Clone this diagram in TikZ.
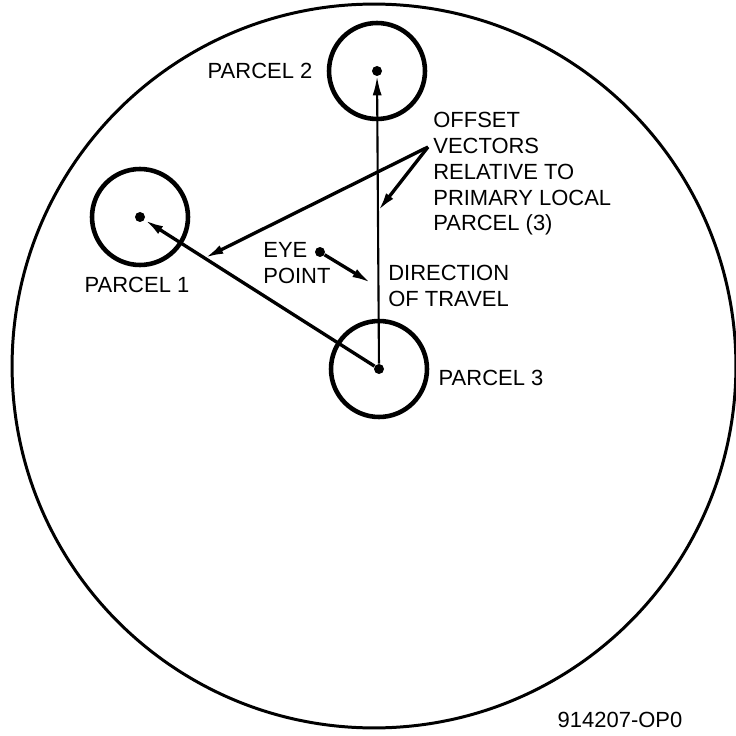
\documentclass[tikz,border=0pt]{standalone}
\usepackage{fontspec}
\setmainfont{Liberation Sans}
\usetikzlibrary{arrows.meta,positioning,calc}

\begin{document}
\begin{tikzpicture}[x=0.02cm, y=-0.02cm,
  parcel/.style={circle, draw, line width=2.6pt, minimum size=1.92cm, inner sep=0pt},
  dot/.style={circle, fill, inner sep=0pt, minimum size=0.2cm},
  lbl/.style={font=\fontsize{12.5}{14}\selectfont, inner sep=0pt},
  txt/.style={inner sep=0pt, align=left, anchor=north west, font=\fontsize{12.5}{14.7}\selectfont},
  vec/.style={-{Latex[length=3.8mm, width=1.8mm]}, line width=1.9pt}
]
  \useasboundingbox (0,0) rectangle (736,736);

  % field of view
  \coordinate (ctr) at (374,366);
  \draw[line width=1.7pt] (ctr) circle[radius=7.24cm];

  % parcels
  \node[dot] (d1) at (140,217) {};
  \node[parcel] (p1) at (d1) {};
  \node[dot] (d2) at (377,71) {};
  \node[parcel] (p2) at (d2) {};
  \node[dot] (d3) at (379,369) {};
  \node[parcel] (p3) at (d3) {};
  \node[lbl] (l1) at (137,285) {PARCEL 1};
  \node[lbl] (l2) at (260,71) {PARCEL 2};
  \node[lbl] (l3) at (491,378) {PARCEL 3};

  \draw[vec, line width=1.2pt] (d3) -- (d2);
  \draw[vec] (d3) -- (d1);

  % offset vectors
  \coordinate (ov) at (428,147);
  \coordinate (t1) at ($(d3)!0.73!(d1)$);
  \coordinate (t2) at ($(d3)!0.53!(d2)$);
  \draw[vec] (ov) -- (t1);
  \draw[vec] (ov) -- (t2);
  \node[txt] (offs) at (433,112) {OFFSET\\VECTORS\\RELATIVE TO\\PRIMARY LOCAL\\PARCEL (3)};

  % eye point and travel
  \node[dot] (eye) at (320,252) {};
  \coordinate (dir) at (371,283);
  \draw[vec] (eye) -- (dir);
  \node[txt] (eyel) at (263,242) {EYE\\POINT};
  \node[txt] (dirl) at (388,265) {DIRECTION\\OF TRAVEL};

  \node[lbl] (code) at (620,720) {914207-OP0};
\end{tikzpicture}
\end{document}
